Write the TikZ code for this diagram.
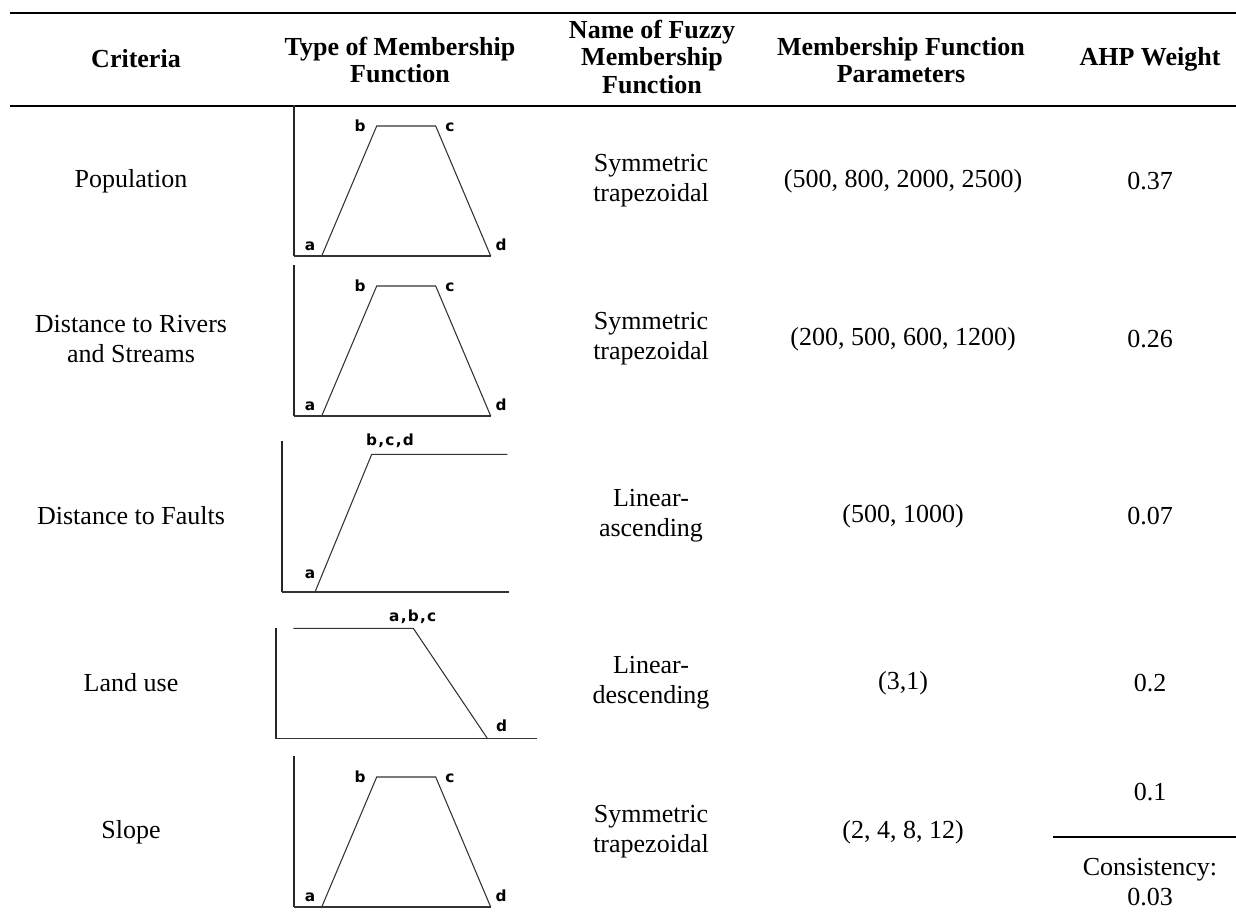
\documentclass[tikz,border=0pt]{standalone}
\usepackage{fontspec}
\setmainfont{Liberation Serif}
\newfontfamily\plotfont[LetterSpace=8]{DejaVu Sans}
\begin{document}
\begin{tikzpicture}[x=0.75pt, y=-0.75pt,
  txt/.style={align=center, inner sep=0pt, font=\fontsize{19.5}{22.5}\selectfont},
  head/.style={align=center, inner sep=0pt, font=\fontsize{19.5}{20.3}\selectfont\bfseries},
  lbl/.style={anchor=base, inner sep=0pt, font=\plotfont\bfseries\fontsize{11.5}{12}\selectfont},
  rule/.style={line width=1.5pt},
  axis/.style={line width=1.1pt, color=black!85},
  mf/.style={line width=0.8pt, color=black!80}]
\useasboundingbox (0,0) rectangle (1236,921);

%Linien
\coordinate(tl) at (10,13);
\coordinate(tr) at (1236,13);
\coordinate(hl) at (10,106);
\coordinate(hr) at (1236,106);
\draw[rule] (tl) -- (tr);
\draw[rule] (hl) -- (hr);

%Kopf
\node[head] (hcrit) at (136,59) {Criteria};
\node[head] (htype) at (400,60) {Type of Membership\\Function};
\node[head] (hname) at (652,57) {Name of Fuzzy\\Membership\\Function};
\node[head] (hpar) at (901,60) {Membership Function\\Parameters};
\node[head] (hahp) at (1150,59) {AHP Weight};

%Trapez
\foreach \dy in {0,160,651}{
\begin{scope}[shift={(0,\dy)}]
\coordinate(top) at (294,105);
\coordinate(o) at (294,256);
\coordinate(a) at (321.7,256);
\coordinate(b) at (376.7,126);
\coordinate(c) at (435.7,126);
\coordinate(d) at (490.7,256);
\draw[axis] (top) -- (o);
\draw[mf] (o) -- (d);
\draw[mf] (a) -- (b) -- (c) -- (d);
\node[lbl] (la\dy) at (310,250) {a};
\node[lbl] (lb\dy) at (360,131) {b};
\node[lbl] (lc\dy) at (450,131) {c};
\node[lbl] (ld\dy) at (501,250) {d};
\end{scope}
}

%Linear steigend
\coordinate(ftop) at (282,441);
\coordinate(fo) at (282,592);
\coordinate(fend) at (509,592);
\coordinate(fa) at (315,592);
\coordinate(fb) at (371.7,454.3);
\coordinate(fd) at (507.3,454.3);
\draw[axis] (ftop) -- (fo);
\draw[mf] (fo) -- (fend);
\draw[mf] (fa) -- (fb) -- (fd);
\node[lbl] (fla) at (310,578) {a};
\node[lbl] (flb) at (390,445) {b,c,d};

%Linear fallend
\coordinate(gtop) at (276,628);
\coordinate(go) at (276,738.3);
\coordinate(gstart) at (275,738.3);
\coordinate(gend) at (536.7,738.3);
\coordinate(ga) at (293.3,628.3);
\coordinate(gc) at (413.3,628.3);
\coordinate(gd) at (487.3,738.3);
\draw[axis] (gtop) -- (go);
\draw[mf] (gstart) -- (gend);
\draw[mf] (ga) -- (gc) -- (gd);
\node[lbl] (gla) at (412.7,621.7) {a,b,c};
\node[lbl] (gld) at (501.7,731.7) {d};

%Kriterien
\node[txt] (pop) at (131,181) {Population};
\node[txt] (riv) at (131,339) {Distance to Rivers\\and Streams};
\node[txt] (flt) at (131,516) {Distance to Faults};
\node[txt] (lu) at (131,683) {Land use};
\node[txt] (slp) at (131,832) {Slope};

%Name
\node[txt] (npop) at (651,181) {Symmetric\\trapezoidal};
\node[txt] (nriv) at (651,339) {Symmetric\\trapezoidal};
\node[txt] (nflt) at (651,516) {Linear-\\ascending};
\node[txt] (nlu) at (651,683) {Linear-\\descending};
\node[txt] (nslp) at (651,832) {Symmetric\\trapezoidal};

%Parameter
\node[txt] (ppop) at (903,181) {(500, 800, 2000, 2500)};
\node[txt] (priv) at (903,339) {(200, 500, 600, 1200)};
\node[txt] (pflt) at (903,516) {(500, 1000)};
\node[txt] (plu) at (903,683) {(3,1)};
\node[txt] (pslp) at (903,832) {(2, 4, 8, 12)};

%Gewichte
\node[txt] (wpop) at (1150,181) {0.37};
\node[txt] (wriv) at (1150,339) {0.26};
\node[txt] (wflt) at (1150,516) {0.07};
\node[txt] (wlu) at (1150,683) {0.2};
\node[txt] (wslp) at (1150,792) {0.1};
\coordinate(cl) at (1053,837);
\coordinate(cr) at (1236,837);
\draw[line width=1.2pt] (cl) -- (cr);
\node[txt] (cons) at (1150,882) {Consistency:\\0.03};
\end{tikzpicture}
\end{document}
